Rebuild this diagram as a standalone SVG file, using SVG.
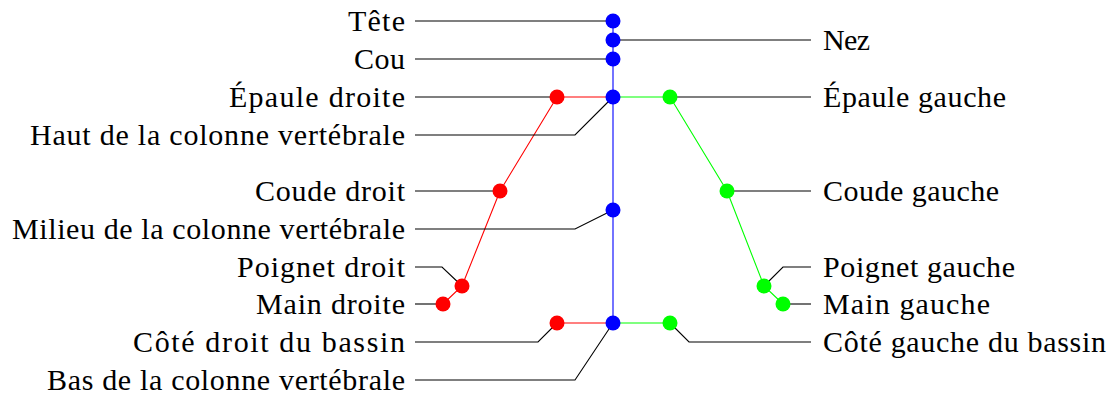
<svg xmlns="http://www.w3.org/2000/svg" width="1115" height="396" viewBox="0 0 1115 396">
<style>
.lbl{font-family:"Liberation Serif","DejaVu Serif",serif;font-size:30px;fill:#000}
.l{text-anchor:end}
.lead{fill:none;stroke:#000;stroke-width:1.1}
.b{fill:#0000ff}.r{fill:#ff0000}.g{fill:#00ff00}
.sb{stroke:#0000ff;stroke-width:1.1;fill:none}
.sr{stroke:#ff0000;stroke-width:1.1;fill:none}
.sg{stroke:#00ff00;stroke-width:1.1;fill:none}
</style>
<rect width="1115" height="396" fill="#fff"/>
<g id="bones">
<line class="sb" x1="613" y1="21" x2="613" y2="323"/>
<polyline class="sr" points="613,97 557,97 500,191 462,286 443,304"/>
<polyline class="sr" points="613,323 557,323"/>
<polyline class="sg" points="613,97 670,97 727,191 764,286 783,304"/>
<polyline class="sg" points="613,323 670,323"/>
</g>
<g id="connectors">
<polyline class="lead" points="415,21 613,21"/>
<polyline class="lead" points="415,59 613,59"/>
<polyline class="lead" points="415,97 557,97"/>
<polyline class="lead" points="415,135 575,135 613,97"/>
<polyline class="lead" points="415,191 500,191"/>
<polyline class="lead" points="415,229 575,229 613,210"/>
<polyline class="lead" points="415,267 442,267 462,286"/>
<polyline class="lead" points="415,304 443,304"/>
<polyline class="lead" points="415,342 538,342 557,323"/>
<polyline class="lead" points="415,380 575,380 613,323"/>
<polyline class="lead" points="613,40 811,40"/>
<polyline class="lead" points="670,97 811,97"/>
<polyline class="lead" points="727,191 811,191"/>
<polyline class="lead" points="764,286 783,267 811,267"/>
<polyline class="lead" points="783,304 811,304"/>
<polyline class="lead" points="670,323 689,342 811,342"/>
</g>
<g id="head"><circle class="b" cx="613" cy="21" r="7.5"/><text class="lbl l" x="405" y="31" textLength="57" lengthAdjust="spacing">Tête</text></g>
<g id="nose"><circle class="b" cx="613" cy="40" r="7.5"/><text class="lbl" x="823" y="50" textLength="47" lengthAdjust="spacing">Nez</text></g>
<g id="neck"><circle class="b" cx="613" cy="59" r="7.5"/><text class="lbl l" x="405" y="69" textLength="51" lengthAdjust="spacing">Cou</text></g>
<g id="spine-shoulder"><circle class="b" cx="613" cy="97" r="7.5"/><text class="lbl l" x="405" y="145" textLength="375" lengthAdjust="spacing">Haut de la colonne vertébrale</text></g>
<g id="spine-mid"><circle class="b" cx="613" cy="210" r="7.5"/><text class="lbl l" x="405" y="239" textLength="393" lengthAdjust="spacing">Milieu de la colonne vertébrale</text></g>
<g id="spine-base"><circle class="b" cx="613" cy="323" r="7.5"/><text class="lbl l" x="405" y="390" textLength="358" lengthAdjust="spacing">Bas de la colonne vertébrale</text></g>
<g id="shoulder-right"><circle class="r" cx="557" cy="97" r="7.5"/><text class="lbl l" x="405" y="107" textLength="176" lengthAdjust="spacing">Épaule droite</text></g>
<g id="elbow-right"><circle class="r" cx="500" cy="191" r="7.5"/><text class="lbl l" x="405" y="201" textLength="150" lengthAdjust="spacing">Coude droit</text></g>
<g id="wrist-right"><circle class="r" cx="462" cy="286" r="7.5"/><text class="lbl l" x="405" y="277" textLength="168" lengthAdjust="spacing">Poignet droit</text></g>
<g id="hand-right"><circle class="r" cx="443" cy="304" r="7.5"/><text class="lbl l" x="405" y="314" textLength="149" lengthAdjust="spacing">Main droite</text></g>
<g id="hip-right"><circle class="r" cx="557" cy="323" r="7.5"/><text class="lbl l" x="405" y="352" textLength="272" lengthAdjust="spacing">Côté droit du bassin</text></g>
<g id="shoulder-left"><circle class="g" cx="670" cy="97" r="7.5"/><text class="lbl" x="823" y="107" textLength="183" lengthAdjust="spacing">Épaule gauche</text></g>
<g id="elbow-left"><circle class="g" cx="727" cy="191" r="7.5"/><text class="lbl" x="823" y="201" textLength="176" lengthAdjust="spacing">Coude gauche</text></g>
<g id="wrist-left"><circle class="g" cx="764" cy="286" r="7.5"/><text class="lbl" x="823" y="277" textLength="192" lengthAdjust="spacing">Poignet gauche</text></g>
<g id="hand-left"><circle class="g" cx="783" cy="304" r="7.5"/><text class="lbl" x="823" y="314" textLength="167" lengthAdjust="spacing">Main gauche</text></g>
<g id="hip-left"><circle class="g" cx="670" cy="323" r="7.5"/><text class="lbl" x="823" y="352" textLength="283" lengthAdjust="spacing">Côté gauche du bassin</text></g>
</svg>
